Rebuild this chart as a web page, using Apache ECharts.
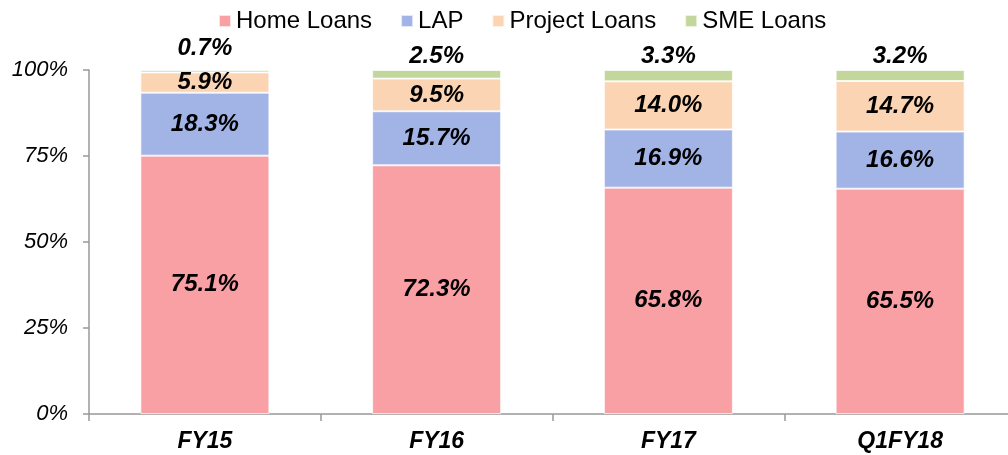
<!DOCTYPE html>
<html>
<head>
<meta charset="utf-8">
<script src="https://cdn.jsdelivr.net/npm/echarts@6/dist/echarts.min.js"></script>
<style>
  html, body { margin: 0; padding: 0; background: #fff; }
  #main { width: 1008px; height: 455px; }
</style>
</head>
<body>
<div id="main"></div>
<script>
var categories = ['FY15', 'FY16', 'FY17', 'Q1FY18'];
var homeLoans = [75.1, 72.3, 65.8, 65.5];
var lap = [18.3, 15.7, 16.9, 16.6];
var projectLoans = [5.9, 9.5, 14.0, 14.7];
var smeLoans = [0.7, 2.5, 3.3, 3.2];
var yTicks = [0, 25, 50, 75, 100];

var font = 'Liberation Sans, Arial, sans-serif';
var segLabel = {
  show: true,
  position: 'inside',
  fontFamily: font,
  fontSize: 24,
  fontWeight: 'bold',
  fontStyle: 'italic',
  color: '#000',
  formatter: function (p) { return p.value.toFixed(1) + '%'; }
};
var segBorder = { borderColor: 'rgba(255,255,255,0.7)', borderWidth: 1 };

function seg(name, data, color) {
  return {
    name: name,
    type: 'bar',
    stack: 'mix',
    barWidth: 129,
    data: data,
    itemStyle: Object.assign({ color: color }, segBorder),
    label: segLabel
  };
}

var myChart = echarts.init(document.getElementById('main'));

var sme = seg('SME Loans', smeLoans.map(function (v, i) {
  // first label sits higher so it clears the 5.9% label
  return i === 0 ? { value: v, label: { distance: 10 } } : v;
}), '#C3D69B');
sme.label = Object.assign({}, segLabel, { position: 'top', distance: 2 });

var option = {
  backgroundColor: '#fff',
  animation: false,
  textStyle: { fontFamily: font },
  legend: {
    left: 213,
    top: 4,
    itemWidth: 12,
    itemHeight: 12,
    itemGap: 28,
    icon: 'rect',
    textStyle: { fontFamily: font, fontSize: 24, color: '#000' },
    data: ['Home Loans', 'LAP', 'Project Loans', 'SME Loans']
  },
  grid: {
    left: 89, width: 927, top: 70, bottom: 41,
    containLabel: false,
    outerBoundsMode: 'none'
  },
  xAxis: {
    type: 'category',
    data: categories,
    axisLine: { lineStyle: { color: '#999', width: 1.5 } },
    axisTick: { show: true, length: 7, interval: 0, lineStyle: { color: '#999', width: 1.5 } },
    axisLabel: {
      margin: 16,
      fontFamily: font,
      fontSize: 23,
      fontWeight: 'bold',
      fontStyle: 'italic',
      color: '#000'
    }
  },
  yAxis: {
    type: 'value',
    min: yTicks[0],
    max: yTicks[yTicks.length - 1],
    interval: 25,
    splitLine: { show: false },
    axisLine: { show: true, lineStyle: { color: '#999', width: 1.5 } },
    axisTick: { show: true, length: 6, lineStyle: { color: '#999', width: 1.5 } },
    axisLabel: {
      margin: 21,
      fontFamily: font,
      fontSize: 22,
      fontStyle: 'italic',
      color: '#000',
      formatter: '{value}%'
    }
  },
  series: [
    seg('Home Loans', homeLoans, '#F9A0A5'),
    seg('LAP', lap, '#A2B3E6'),
    seg('Project Loans', projectLoans, '#FBD4B3'),
    sme
  ]
};

myChart.setOption(option);
</script>
</body>
</html>
